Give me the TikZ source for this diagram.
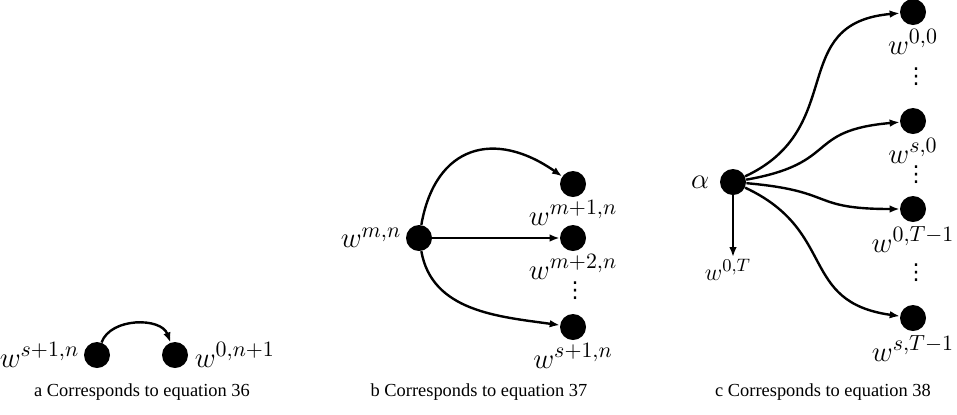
\documentclass[tikz,border=0pt]{standalone}
\usepackage{fontspec}
\setmainfont{Liberation Serif}
\newfontfamily\grsym{DejaVu Sans}
\usetikzlibrary{arrows.meta, positioning}
\tikzset{
  grdot/.style={circle, fill=black, draw=none, minimum size=13pt, inner sep=0pt},
  gredge/.style={-{Latex[length=5pt,width=3.8pt]}, line width=1.2pt},
  grlabel/.style={inner sep=0pt, font=\fontsize{15}{18}\selectfont},
  grdots/.style={inner sep=0pt, font=\grsym\fontsize{11}{13}\selectfont},
  grcap/.style={inner sep=0pt, font=\fontsize{9.2}{11}\selectfont},
}

\begin{document}
\begin{tikzpicture}[x=0.5pt, y=-0.5pt]
  \useasboundingbox (0,0) rectangle (957,414);

  % --- (a) equation 36 ---------------------------------------------------
  \node[grdot] (a1) at (97,355)  {};
  \node[grdot] (a2) at (175,355) {};
  \node[grlabel, left=2pt of a1]  (a1lab) {$w^{s+1,n}$};
  \node[grlabel, right=3pt of a2] (a2lab) {$w^{0,n+1}$};
  \draw[gredge] (a1) to[out=70,in=110] (a2);
  \node[grcap] (capa) at (142,392) {a Corresponds to equation 36};

  % --- (b) equation 37 ---------------------------------------------------
  \node[grdot] (bs) at (419,238) {};
  \node[grdot] (b1) at (573,184) {};
  \node[grdot] (b2) at (573,238) {};
  \node[grdot] (b3) at (573,327) {};
  \node[grlabel, left=2pt of bs]  (bslab) {$w^{m,n}$};
  \node[grlabel, below=1.5pt of b1] (b1lab) {$w^{m+1,n}$};
  \node[grlabel, below=1.5pt of b2] (b2lab) {$w^{m+2,n}$};
  \node[grdots] (bdots) at (575,291) {⋮};
  \node[grlabel, below=1.5pt of b3] (b3lab) {$w^{s+1,n}$};
  \draw[gredge] (bs) to[out=80,in=145,looseness=1.4] (b1);
  \draw[gredge] (bs) -- (b2);
  \draw[gredge] (bs) to[out=-80,in=172] (b3);
  \node[grcap] (capb) at (479,392) {b Corresponds to equation 37};

  % --- (c) equation 38 ---------------------------------------------------
  \node[grdot] (al) at (733,182) {};
  \node[grlabel, left=5pt of al] (allab) {$\alpha$};
  \node[grdot] (c1) at (913,12)  {};
  \node[grdot] (c2) at (913,121) {};
  \node[grdot] (c3) at (913,209) {};
  \node[grdot] (c4) at (913,318) {};
  \node[grlabel, below=2pt of c1] (c1lab) {$w^{0,0}$};
  \node[grlabel, below=2pt of c2] (c2lab) {$w^{s,0}$};
  \node[grlabel, below=2pt of c3] (c3lab) {$w^{0,T-1}$};
  \node[grlabel, below=2pt of c4] (c4lab) {$w^{s,T-1}$};
  \node[grdots] (cdots1) at (916,77)  {⋮};
  \node[grdots] (cdots2) at (916,175) {⋮};
  \node[grdots] (cdots3) at (916,273) {⋮};
  \draw[gredge] (al) to[out=25,in=185,looseness=1.3] (c1);
  \draw[gredge] (al) to[out=10,in=185,looseness=1.5] (c2);
  \draw[gredge] (al) to[out=-5,in=180,looseness=1.5] (c3);
  \draw[gredge] (al) to[out=-25,in=172,looseness=1.3] (c4);
  % straight drop to w^{0,T}
  \coordinate (alT) at (733,257);
  \draw[gredge] (al) -- (alT);
  \node[grlabel, font=\fontsize{12.5}{15}\selectfont, below=1pt of alT, xshift=-2.5pt] (altlab) {$w^{0,T}$};
  \node[grcap] (capc) at (823,392) {c Corresponds to equation 38};

\end{tikzpicture}
\end{document}
